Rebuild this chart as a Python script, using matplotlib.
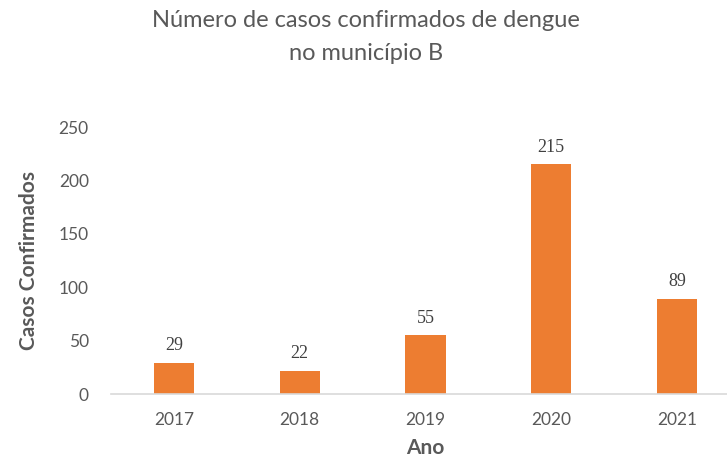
import matplotlib
matplotlib.use("Agg")
import matplotlib.pyplot as plt

anos = ["2017", "2018", "2019", "2020", "2021"]
casos = [29, 22, 55, 215, 89]
yticks = [0, 50, 100, 150, 200, 250]

cinza = "#595959"
laranja = "#ED7D31"

plt.rcParams["font.family"] = ["Lato", "DejaVu Sans"]

fig = plt.figure(figsize=(7.27, 4.61), dpi=100)
ax = fig.add_axes([111 / 727, 1 - 394 / 461, 629 / 727, 267 / 461])

x = range(len(anos))
barras = ax.bar(x, casos, width=0.32, color=laranja, zorder=2)
for b, v in zip(barras, casos):
    ax.text(b.get_x() + b.get_width() / 2, v + 8, str(v), ha="center", va="bottom",
            fontsize=13, color="#404040", family="Liberation Serif")

ax.set_xlim(-0.5, len(anos) - 0.5)
ax.set_ylim(0, 250)
ax.set_xticks(list(x))
ax.set_xticklabels(anos)
ax.set_yticks(yticks)
ax.tick_params(axis="both", length=0, labelsize=12.5, colors=cinza)
ax.tick_params(axis="x", pad=13)
ax.tick_params(axis="y", pad=16)
for s in ["top", "right", "left"]:
    ax.spines[s].set_visible(False)
ax.spines["bottom"].set_color("#D9D9D9")
ax.spines["bottom"].set_linewidth(1.2)

ax.set_xlabel("Ano", fontsize=15, fontweight="bold", color=cinza, labelpad=7)
ax.set_ylabel("Casos Confirmados", fontsize=15, fontweight="bold", color=cinza, labelpad=14)

fig.text(366 / 727, 1 - 37 / 461, "Número de casos confirmados de dengue\nno município B",
         ha="center", va="center", fontsize=17, color=cinza, linespacing=1.75)

fig.savefig("out.png", dpi=100)
